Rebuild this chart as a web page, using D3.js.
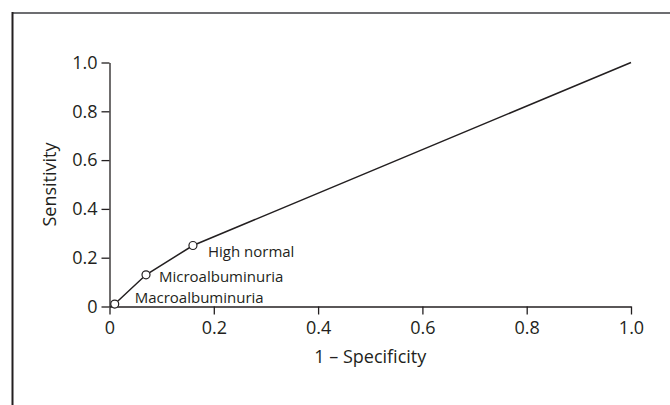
<!DOCTYPE html>
<html>
<head>
<meta charset="utf-8">
<script src="https://cdn.jsdelivr.net/npm/d3@7"></script>
<style>
  body { margin: 0; background: #fff; }
  svg text { font-family: 'Open Sans', 'Noto Sans', sans-serif; fill: #231f20; }
</style>
</head>
<body>
<div id="chart"></div>
<script>
// ROC points: 1 - specificity vs sensitivity
const fprValues = [0.01, 0.07, 0.16, 1.0]
const tprValues = [0.01, 0.13, 0.25, 1.0]
const pointLabels = ['Macroalbuminuria', 'Microalbuminuria', 'High normal', '']
const xTicks = [0, 0.2, 0.4, 0.6, 0.8, 1.0]
const yTicks = [0, 0.2, 0.4, 0.6, 0.8, 1.0]

const drawRoc = () => {
  const dims = { width: 670, height: 405, left: 109.5, top: 62.5, right: 39, bottom: 98.5 }
  const innerWidth = dims.width - dims.left - dims.right
  const innerHeight = dims.height - dims.top - dims.bottom

  const svg = d3.select('#chart').append('svg')
    .attr('width', dims.width)
    .attr('height', dims.height)

  // frame (top + left edge only)
  svg.append('line').attr('x1', 12).attr('x2', 670).attr('y1', 13).attr('y2', 13)
    .attr('stroke', '#6d6e71').attr('stroke-width', 2)
  svg.append('line').attr('x1', 12.5).attr('x2', 12.5).attr('y1', 12).attr('y2', 405)
    .attr('stroke', '#231f20').attr('stroke-width', 2)

  const canvas = svg.append('g').attr('transform', `translate(${dims.left}, ${dims.top})`)

  const xScale = d3.scaleLinear().domain([0, 1]).range([0, innerWidth])
  const yScale = d3.scaleLinear().domain([0, 1]).range([innerHeight, 0])

  const fmt = d => (d === 0 ? '0' : d3.format('.1f')(d))

  const xAxisGroup = canvas.append('g')
    .attr('transform', `translate(0, ${innerHeight})`)
    .call(d3.axisBottom(xScale).tickValues(xTicks).tickFormat(fmt).tickSizeOuter(0).tickSizeInner(8).tickPadding(7))
  const yAxisGroup = canvas.append('g')
    .call(d3.axisLeft(yScale).tickValues(yTicks).tickFormat(fmt).tickSizeOuter(0).tickSizeInner(8).tickPadding(4))

  ;[xAxisGroup, yAxisGroup].forEach(g => {
    g.selectAll('path, line').attr('stroke', '#231f20').attr('stroke-width', 1.3)
    g.selectAll('text').attr('font-size', 18).attr('fill', '#231f20')
      .attr('font-family', "'Open Sans', sans-serif")
  })

  svg.append('text')
    .attr('x', dims.left + innerWidth / 2)
    .attr('y', 363)
    .attr('text-anchor', 'middle')
    .attr('font-size', 18)
    .text('1 – Specificity')

  svg.append('text')
    .attr('transform', `translate(56, ${dims.top + innerHeight / 2}) rotate(-90)`)
    .attr('text-anchor', 'middle')
    .attr('font-size', 18)
    .text('Sensitivity')

  const rocData = fprValues.map((fpr, i) => ({ fpr, tpr: tprValues[i], label: pointLabels[i] }))

  const lineGenerator = d3.line()
    .x(d => xScale(d.fpr))
    .y(d => yScale(d.tpr))

  canvas.append('path')
    .datum(rocData)
    .attr('d', lineGenerator)
    .attr('fill', 'none')
    .attr('stroke', '#231f20')
    .attr('stroke-width', 1.5)

  const markers = rocData.filter(d => d.label !== '')
  canvas.selectAll('circle.pt')
    .data(markers)
    .join('circle')
    .attr('class', 'pt')
    .attr('cx', d => xScale(d.fpr))
    .attr('cy', d => yScale(d.tpr))
    .attr('r', 4)
    .attr('fill', '#fff')
    .attr('stroke', '#231f20')
    .attr('stroke-width', 1.2)

  // label offsets relative to each marker
  const labelOffsets = [[20, -1.5], [13, 7.5], [15, 11]]
  canvas.selectAll('text.lbl')
    .data(markers)
    .join('text')
    .attr('class', 'lbl')
    .attr('x', (d, i) => xScale(d.fpr) + labelOffsets[i][0])
    .attr('y', (d, i) => yScale(d.tpr) + labelOffsets[i][1])
    .attr('font-size', 15)
    .text(d => d.label)
}

drawRoc()
</script>
</body>
</html>
